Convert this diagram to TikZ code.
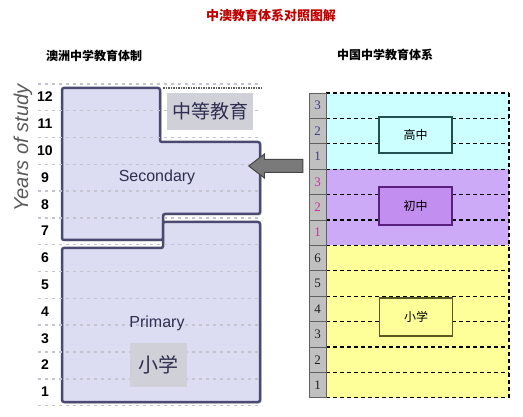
\documentclass[tikz,border=0pt]{standalone}
\usepackage{fontspec}
\setmainfont{Liberation Serif}
\setsansfont{Liberation Sans}
\newfontfamily\cjk{Noto Sans CJK SC}
\usepackage{xcolor}
\usetikzlibrary{shapes.arrows,shadows}
\definecolor{titlered}{HTML}{C00000}
\definecolor{stagefill}{HTML}{DCDCF2}
\definecolor{stageline}{HTML}{4A4A70}
\definecolor{stagetext}{HTML}{2E2E50}
\definecolor{gridgray}{HTML}{C4C4CE}
\definecolor{tagfill}{HTML}{D0D0D8}
\definecolor{arrowfill}{HTML}{7A7A7A}
\definecolor{arrowline}{HTML}{454545}
\definecolor{cellfill}{HTML}{C0C0C0}
\definecolor{cellline}{HTML}{606060}
\definecolor{gzband}{HTML}{CCFFFF}
\definecolor{czband}{HTML}{CDAAF8}
\definecolor{xxband}{HTML}{FFFF99}
\definecolor{gzline}{HTML}{205050}
\definecolor{czboxfill}{HTML}{C28EF0}
\definecolor{czline}{HTML}{5A2080}
\definecolor{xxline}{HTML}{5A5A20}
\definecolor{gznum}{HTML}{404080}
\definecolor{cznum}{HTML}{CC3399}
\definecolor{xxnum}{HTML}{202020}

\begin{document}
\begin{tikzpicture}
     [x=1pt,y=-1pt,
     stagebox/.style={draw=stageline, fill=stagefill, line width=2.5pt, rounded corners=2pt, drop shadow={shadow xshift=1.5pt, shadow yshift=-1.5pt, opacity=0.3}},
     gridline/.style={draw=gridgray, line width=1.4pt, dash pattern=on 3pt off 4pt},
     yearnum/.style={font=\sffamily\bfseries\fontsize{14}{14}\selectfont, text=black, inner sep=0pt},
     stagetext/.style={font=\sffamily\fontsize{16}{16}\selectfont, text=stagetext},
     tagbox/.style={fill=tagfill, text=stagetext, inner sep=0pt},
     heading/.style={font=\cjk\bfseries\fontsize{12}{12}\selectfont},
     bigarrow/.style={single arrow, shape border rotate=180, draw=arrowline, fill=arrowfill, line width=1pt, minimum height=54pt, inner sep=6pt, single arrow head extend=5.5pt, single arrow tip angle=75},
     yearcell/.style={draw=cellline, fill=cellfill, line width=0.8pt, minimum width=17pt, minimum height=25.4pt, inner sep=0pt, font=\fontsize{13}{13}\selectfont},
     rowline/.style={draw=black, line width=1.1pt, dash pattern=on 4pt off 3pt},
     schoolbox/.style={line width=1.2pt, minimum width=73pt, inner sep=0pt, font=\cjk\fontsize{12}{12}\selectfont},
     ]
 \useasboundingbox (0,0) rectangle (523,417);
 % titles
 \node at (271,15) [heading, text=titlered, font=\cjk\bfseries\fontsize{13}{13}\selectfont] (title) {中澳教育体系对照图解};
 \node at (94,56) [heading] (auhead) {澳洲中学教育体制};
 \node at (385,55) [heading] (cnhead) {中国中学教育体系};

 % Australian side
 \filldraw[stagebox] (62,88) -- (160,88) -- (160,142) -- (260,142) -- (260,214) -- (163,214) -- (163,240) -- (62,240) -- cycle;
 \filldraw[stagebox] (62,248) -- (163,248) -- (163,222) -- (260,222) -- (260,402) -- (62,402) -- cycle;
 \foreach \k in {0,...,12}
   \draw[gridline] (38,{84+\k*26.8}) -- (262,{84+\k*26.8});
 \draw[cellline, line width=1.5pt, densely dotted] (163,88) -- (262,88);
 \foreach \n in {1,...,12}
   \node at (45,{97+(12-\n)*26.8}) [yearnum] (au\n) {\n};
 \node at (23,148) [rotate=90, font=\sffamily\itshape\fontsize{20}{20}\selectfont, text=black!65] (years) {Years of study};
 \node at (210,111.5) [tagbox, minimum width=86pt, minimum height=37pt, font=\cjk\fontsize{19}{19}\selectfont] (zdjy) {中等教育};
 \node at (157,177) [stagetext] (sec) {Secondary};
 \node at (157,323) [stagetext] (pri) {Primary};
 \node at (158.5,365) [tagbox, minimum width=57pt, minimum height=44pt, font=\cjk\fontsize{20}{20}\selectfont] (xiaoxue) {小学};

 % Chinese side
 \fill[gzband] (326,93) rectangle (509,169.2);
 \fill[czband] (326,169.2) rectangle (509,245.4);
 \fill[xxband] (326,245.4) rectangle (509,398);
 \foreach \r in {0,...,12}
   \draw[rowline] (326,{93+\r*25.4}) -- (509,{93+\r*25.4});
 \draw[rowline] (509,93) -- (509,398);
 \draw[rowline] (326,93) -- (326,398);
 \foreach \n/\col [count=\r from 0] in {3/gznum,2/gznum,1/gznum,3/cznum,2/cznum,1/cznum,6/xxnum,5/xxnum,4/xxnum,3/xxnum,2/xxnum,1/xxnum}
   \node at (317.5,{105.7+\r*25.4}) [yearcell, text=\col] (cn\r) {\n};
 \node at (415.5,135) [schoolbox, draw=gzline, fill=gzband, minimum height=36pt] (gaozhong) {高中};
 \node at (415.5,206) [schoolbox, draw=czline, fill=czboxfill, minimum height=38pt] (chuzhong) {初中};
 \node at (416,317) [schoolbox, draw=xxline, fill=xxband, minimum height=38pt] (xiaoxuecn) {小学};

 % link
 \node at (280,166) [bigarrow] (link) {};
\end{tikzpicture}
\end{document}
